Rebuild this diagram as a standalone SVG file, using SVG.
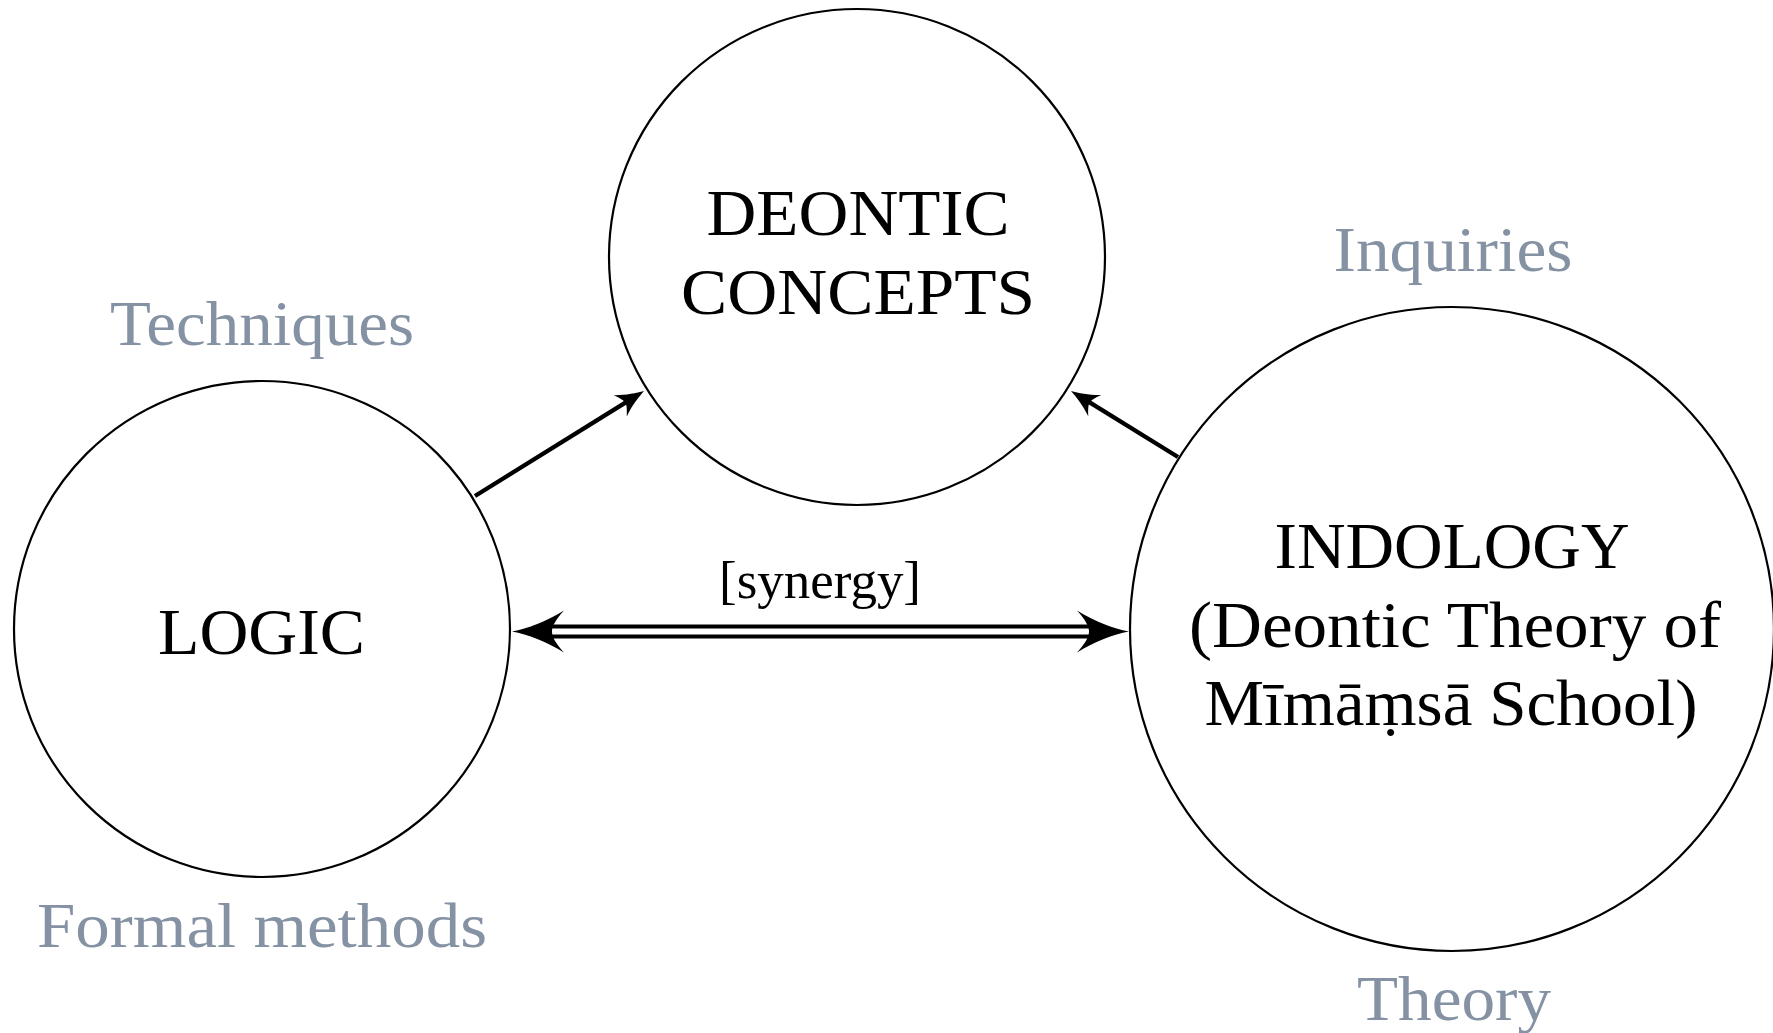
<svg xmlns="http://www.w3.org/2000/svg" width="1773" height="1033" viewBox="0 0 1773 1033">
<style>
.node{fill:#fff;stroke:#000;stroke-width:2.2}
.t{font-family:"Liberation Serif","DejaVu Serif",serif;font-size:66px;fill:#000;text-anchor:middle}
.g{font-family:"Liberation Serif","DejaVu Serif",serif;font-size:64px;fill:#8592a3;text-anchor:middle}
.lbl{font-family:"Liberation Serif","DejaVu Serif",serif;font-size:52px;fill:#000;text-anchor:middle}
.arr{fill:none;stroke:#000;stroke-width:4.4}
.dbl{fill:none;stroke:#000;stroke-width:4}
</style>
<defs>
<marker id="ah" markerUnits="userSpaceOnUse" markerWidth="40" markerHeight="40" viewBox="-30 -15 40 30" refX="-10" refY="0" orient="auto" overflow="visible">
<path d="M0,0 C-8,-2.5 -18,-6 -28,-12.5 C-24,-6.5 -22,-3 -22,0 C-22,3 -24,6.5 -28,12.5 C-18,6 -8,2.5 0,0 Z" fill="#000"/>
</marker>
<marker id="dh" markerUnits="userSpaceOnUse" markerWidth="60" markerHeight="50" viewBox="-55 -25 60 50" refX="0" refY="0" orient="auto-start-reverse" overflow="visible">
<path d="M0,0 C-16,-3 -34,-10 -52,-21 C-43,-11 -40,-5 -40,0 C-40,5 -43,11 -52,21 C-34,10 -16,3 0,0 Z" fill="#000"/>
</marker>
</defs>
<rect x="0" y="0" width="1773" height="1033" fill="#fff"/>
<g id="connectors">
<line class="arr" x1="475" y1="496" x2="635.5" y2="396.3" marker-end="url(#ah)"/>
<line class="arr" x1="1178" y1="457" x2="1079.5" y2="396.2" marker-end="url(#ah)"/>
<line class="dbl" x1="548" y1="626.5" x2="1093" y2="626.5"/>
<line class="dbl" x1="548" y1="636.5" x2="1093" y2="636.5"/>
<path d="M512,631.5 L1129,631.5" stroke="none" fill="none" marker-start="url(#dh)" marker-end="url(#dh)"/>
<text class="lbl" x="820" y="598" textLength="202" lengthAdjust="spacingAndGlyphs">[synergy]</text>
</g>
<g id="deontic">
<circle class="node" cx="857" cy="257" r="248"/>
<text class="t" x="858" y="235" textLength="303" lengthAdjust="spacingAndGlyphs">DEONTIC</text>
<text class="t" x="858" y="314" textLength="354" lengthAdjust="spacingAndGlyphs">CONCEPTS</text>
</g>
<g id="logic">
<circle class="node" cx="262" cy="629" r="248"/>
<text class="t" x="261.5" y="654" textLength="207" lengthAdjust="spacingAndGlyphs">LOGIC</text>
<text class="g" x="262" y="345" textLength="304" lengthAdjust="spacingAndGlyphs">Techniques</text>
<text class="g" x="262" y="947" textLength="450" lengthAdjust="spacingAndGlyphs">Formal methods</text>
</g>
<g id="indology">
<circle class="node" cx="1452" cy="629" r="322"/>
<text class="t" x="1452" y="568" textLength="355" lengthAdjust="spacingAndGlyphs">INDOLOGY</text>
<text class="t" x="1455" y="647" textLength="532" lengthAdjust="spacingAndGlyphs">(Deontic Theory of</text>
<text class="t" x="1451" y="725" textLength="493" lengthAdjust="spacingAndGlyphs">Mīmāṃsā School)</text>
<text class="g" x="1453" y="271" textLength="239" lengthAdjust="spacingAndGlyphs">Inquiries</text>
<text class="g" x="1454" y="1020" textLength="194" lengthAdjust="spacingAndGlyphs">Theory</text>
</g>
</svg>
